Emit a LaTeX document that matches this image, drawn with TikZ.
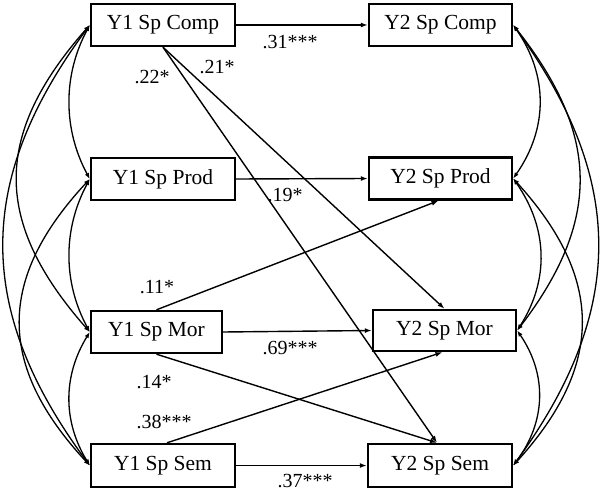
\documentclass[tikz,border=0pt]{standalone}
\usepackage{fontspec}
\setmainfont{Liberation Serif}
\usetikzlibrary{arrows.meta}
\begin{document}
\begin{tikzpicture}[x=1pt,y=-1pt,
  varbox/.style={draw,line width=2.4pt,inner sep=0pt,minimum height=42pt,
    font=\fontsize{21.5}{24}\selectfont},
  wbox/.style={varbox,minimum width=144pt},
  nbox/.style={varbox,minimum width=131pt},
  path/.style={line width=1.4pt,-{Latex[length=7pt,width=5pt]}},
  cov/.style={line width=1.3pt,{Latex[length=6pt,width=4.5pt]}-{Latex[length=6pt,width=4.5pt]}},
  coef/.style={font=\fontsize{20}{24}\selectfont,inner sep=0pt}]
\useasboundingbox (0,0) rectangle (600,492);
% Year 1
\node[wbox] (c1) at (163,25) {Y1 Sp Comp};
\node[wbox] (p1) at (163,179) {Y1 Sp Prod};
\node[nbox] (m1) at (156.5,332) {Y1 Sp Mor};
\node[wbox,minimum height=43pt] (s1) at (163,465.5) {Y1 Sp Sem};
% Year 2
\node[wbox,minimum width=143pt] (c2) at (440.5,25) {Y2 Sp Comp};
\node[wbox,minimum width=143pt] (p2) at (440.5,178.5) {Y2 Sp Prod};
\node[wbox,minimum width=143pt,minimum height=41pt] (m2) at (444.5,330.5) {Y2 Sp Mor};
\node[wbox,minimum height=43pt] (s2) at (440,465.5) {Y2 Sp Sem};
% paths
\draw[path] (c1.east) -- (c2.west);
\draw[path] (p1.east) -- (p2.west);
\draw[path] (m1.east) -- (m2.west);
\draw[path] (s1.east) -- (s2.west);
\draw[path] (c1.south) -- (m2.north);
\draw[path] (c1.south) -- ([xshift=-3pt]s2.north);
\draw[path] (m1.north) -- ([xshift=-2pt]p2.south);
\draw[path] (m1.south) -- ([xshift=-3pt]s2.north);
\draw[path] ([xshift=4pt]s1.north) -- ([xshift=-2pt]m2.south);
% coefficients
\node[coef] (l31) at (290,42) {.31***};
\node[coef] (l22) at (152,77) {.22*};
\node[coef] (l21) at (217,67) {.21*};
\node[coef] (l19) at (285,195) {.19*};
\node[coef] (l11) at (157,287) {.11*};
\node[coef] (l69) at (290,348) {.69***};
\node[coef] (l14) at (154,382) {.14*};
\node[coef] (l38) at (164,422) {.38***};
\node[coef] (l37) at (305,481) {.37***};
% covariances Year 1
\draw[cov] (c1.west) .. controls +(-27,50) and +(-27,-50) .. (p1.west);
\draw[cov] (p1.west) .. controls +(-27,50) and +(-27,-50) .. (m1.west);
\draw[cov] (m1.west) .. controls +(-27,44) and +(-27,-44) .. (s1.west);
\draw[cov] (c1.west) .. controls +(-97,110) and +(-97,-110) .. (m1.west);
\draw[cov] (p1.west) .. controls +(-93,100) and +(-93,-100) .. (s1.west);
\draw[cov] (c1.west) .. controls +(-115,155) and +(-115,-155) .. (s1.west);
% covariances Year 2
\draw[cov] (c2.east) .. controls +(35,50) and +(35,-50) .. (p2.east);
\draw[cov] (p2.east) .. controls +(35,50) and +(32,-50) .. (m2.east);
\draw[cov] (m2.east) .. controls +(30,44) and +(33,-44) .. (s2.east);
\draw[cov] (c2.east) .. controls +(87,110) and +(84,-110) .. (m2.east);
\draw[cov] (p2.east) .. controls +(91,100) and +(91,-100) .. (s2.east);
\draw[cov] (c2.east) .. controls +(113,155) and +(113,-155) .. (s2.east);
\end{tikzpicture}
\end{document}
